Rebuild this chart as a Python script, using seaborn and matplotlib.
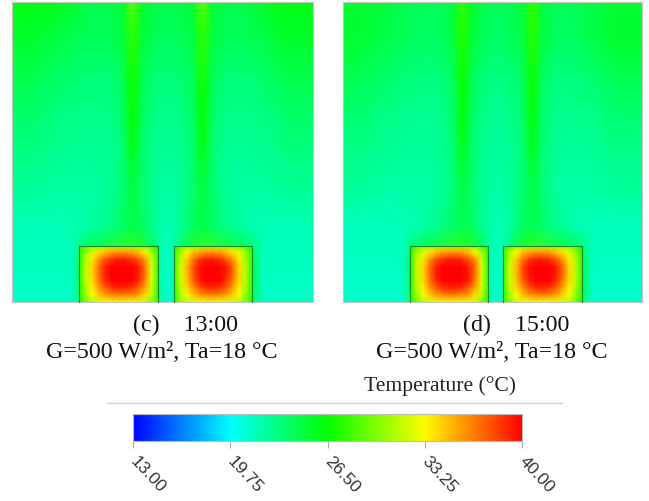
import matplotlib
matplotlib.use('Agg')
import matplotlib.pyplot as plt
import seaborn as sns
from matplotlib.colors import LinearSegmentedColormap
from matplotlib.lines import Line2D

W, H = 649, 502

bar_ticks = [13.0, 19.75, 26.5, 33.25, 40.0]
bar_colors = ['#0000ff', '#00ffff', '#00ff00', '#ffff00', '#ff0000']

captions_time = ['(c)    13:00', '(d)    15:00']
caption_cond = 'G=500 W/m\u00b2, Ta=18 \u00b0C'
bar_title = 'Temperature (\u00b0C)'

# temperature, rows top to bottom, columns every 10 px
field_c = [
    [26.0, 26.0, 26.0, 26.0, 25.9, 25.7, 25.3, 24.9, 24.6, 24.5, 24.6, 25.2, 28.8, 25.4, 24.8, 24.6, 24.6, 24.7, 25.2, 28.8, 25.2, 24.7, 24.5, 24.6, 24.9, 25.4, 25.8, 26.0, 26.0, 26.0, 26.0],
    [25.4, 25.4, 25.3, 25.1, 24.9, 24.6, 24.4, 24.2, 24.1, 24.1, 24.2, 24.8, 27.6, 25.0, 24.3, 24.0, 24.0, 24.2, 24.8, 27.6, 24.8, 24.2, 24.1, 24.1, 24.3, 24.6, 25.0, 25.3, 25.4, 25.4, 25.4],
    [24.5, 24.5, 24.4, 24.2, 24.0, 23.8, 23.6, 23.5, 23.4, 23.4, 23.5, 24.2, 27.0, 24.4, 23.6, 23.4, 23.4, 23.6, 24.2, 27.0, 24.2, 23.6, 23.4, 23.4, 23.5, 23.7, 24.0, 24.3, 24.5, 24.5, 24.5],
    [23.8, 23.8, 23.7, 23.5, 23.3, 23.1, 23.0, 22.9, 22.9, 22.9, 23.1, 23.8, 26.5, 24.0, 23.1, 22.9, 22.9, 23.1, 23.8, 26.5, 23.8, 23.1, 22.9, 22.9, 23.0, 23.1, 23.3, 23.6, 23.8, 23.8, 23.8],
    [23.2, 23.2, 23.1, 23.0, 22.8, 22.7, 22.6, 22.5, 22.5, 22.6, 22.7, 23.5, 25.8, 23.7, 22.8, 22.5, 22.5, 22.8, 23.5, 25.8, 23.6, 22.8, 22.5, 22.5, 22.6, 22.7, 22.9, 23.1, 23.2, 23.2, 23.2],
    [22.5, 22.5, 22.4, 22.3, 22.2, 22.2, 22.2, 22.2, 22.2, 22.3, 22.6, 23.4, 24.8, 23.7, 22.6, 22.2, 22.2, 22.6, 23.6, 24.8, 23.6, 22.6, 22.2, 22.2, 22.2, 22.2, 22.3, 22.4, 22.5, 22.5, 22.5],
    [21.7, 21.7, 21.7, 21.7, 21.7, 21.7, 21.8, 21.9, 22.2, 22.6, 23.2, 23.9, 24.6, 24.0, 22.8, 21.9, 21.9, 22.8, 24.0, 24.6, 23.9, 23.1, 22.5, 22.1, 21.8, 21.7, 21.7, 21.7, 21.7, 21.7, 21.7],
    [21.5, 21.5, 21.5, 21.5, 21.5, 21.5, 21.6, 24.5, 26.0, 27.0, 28.0, 28.8, 28.8, 28.0, 25.0, 21.6, 21.6, 25.0, 28.0, 28.8, 28.8, 28.0, 27.0, 26.0, 24.5, 21.6, 21.5, 21.5, 21.5, 21.5, 21.5],
    [21.2, 21.2, 21.2, 21.2, 21.2, 21.2, 21.3, 24.0, 26.0, 26.0, 26.0, 26.0, 26.0, 26.0, 25.0, 21.3, 21.3, 25.0, 26.0, 26.0, 26.0, 26.0, 26.0, 26.0, 24.0, 21.3, 21.2, 21.2, 21.2, 21.2, 21.2],
]

# panel (d): a bit cooler near the top corners
field_d = [
    [25.3, 25.3, 25.2, 25.1, 25.0, 24.8, 24.5, 24.3, 24.1, 24.1, 24.2, 25.0, 27.8, 25.2, 24.4, 24.2, 24.2, 24.4, 25.0, 27.8, 25.0, 24.3, 24.1, 24.2, 24.4, 24.7, 25.0, 25.2, 25.2, 25.2, 25.2],
    [25.2, 25.2, 25.1, 24.9, 24.7, 24.4, 24.2, 24.0, 23.9, 23.9, 24.0, 24.8, 27.4, 25.0, 24.1, 23.8, 23.8, 24.1, 24.8, 27.4, 24.8, 24.1, 23.9, 24.0, 24.2, 24.5, 24.9, 25.2, 25.3, 25.3, 25.3],
    [24.4, 24.4, 24.2, 24.0, 23.8, 23.6, 23.4, 23.3, 23.2, 23.2, 23.3, 24.1, 26.8, 24.3, 23.4, 23.2, 23.2, 23.4, 24.1, 26.8, 24.1, 23.4, 23.2, 23.3, 23.4, 23.6, 23.9, 24.2, 24.4, 24.4, 24.4],
    [23.6, 23.6, 23.5, 23.3, 23.1, 23.0, 22.8, 22.8, 22.7, 22.7, 22.9, 23.7, 26.3, 23.9, 23.0, 22.7, 22.7, 23.0, 23.7, 26.3, 23.7, 23.0, 22.8, 22.8, 22.9, 23.0, 23.2, 23.5, 23.6, 23.6, 23.6],
    [23.0, 23.0, 22.9, 22.8, 22.6, 22.5, 22.4, 22.4, 22.4, 22.4, 22.6, 23.4, 25.6, 23.6, 22.7, 22.4, 22.4, 22.6, 23.4, 25.6, 23.5, 22.7, 22.4, 22.4, 22.4, 22.5, 22.7, 22.9, 23.0, 23.0, 23.0],
    [22.4, 22.4, 22.3, 22.2, 22.1, 22.1, 22.1, 22.1, 22.1, 22.2, 22.5, 23.3, 24.6, 23.6, 22.5, 22.1, 22.1, 22.5, 23.5, 24.6, 23.5, 22.5, 22.1, 22.1, 22.1, 22.1, 22.2, 22.3, 22.4, 22.4, 22.4],
    [21.6, 21.6, 21.6, 21.6, 21.6, 21.6, 21.7, 21.8, 22.1, 22.5, 23.1, 23.8, 24.4, 23.9, 22.7, 21.8, 21.8, 22.7, 23.9, 24.4, 23.8, 23.0, 22.4, 22.0, 21.7, 21.6, 21.6, 21.6, 21.6, 21.6, 21.6],
    [21.4, 21.4, 21.4, 21.4, 21.4, 21.4, 21.5, 24.5, 26.0, 27.0, 28.0, 28.6, 28.6, 28.0, 25.0, 21.5, 21.5, 25.0, 28.0, 28.6, 28.6, 28.0, 27.0, 26.0, 24.5, 21.5, 21.4, 21.4, 21.4, 21.4, 21.4],
    [21.1, 21.1, 21.1, 21.1, 21.1, 21.1, 21.2, 24.0, 26.0, 26.0, 26.0, 26.0, 26.0, 26.0, 25.0, 21.2, 21.2, 25.0, 26.0, 26.0, 26.0, 26.0, 26.0, 26.0, 24.0, 21.2, 21.1, 21.1, 21.1, 21.1, 21.1],
]

# the two hot blocks, same shape in both panels
block_left = [
    [27.0, 28.5, 29.5, 30.5, 31.0, 31.5, 31.5, 31.5, 31.0, 31.0, 30.0, 28.5, 27.0],
    [27.5, 30.5, 32.5, 34.0, 35.0, 35.8, 36.0, 36.0, 35.8, 35.0, 33.5, 31.0, 27.5],
    [27.5, 31.0, 33.8, 36.0, 37.8, 38.8, 39.3, 39.3, 38.8, 37.8, 36.0, 32.0, 27.5],
    [27.5, 31.5, 34.3, 37.0, 39.0, 40.2, 40.5, 40.5, 40.2, 39.2, 37.0, 32.5, 27.5],
    [27.5, 31.5, 34.3, 37.0, 39.2, 40.3, 40.6, 40.6, 40.3, 39.3, 37.0, 32.5, 27.5],
    [27.5, 31.5, 34.1, 36.8, 38.8, 40.0, 40.4, 40.4, 40.0, 39.0, 36.6, 32.5, 27.5],
    [27.5, 31.0, 33.6, 35.8, 37.5, 38.5, 39.0, 39.0, 38.5, 37.4, 35.6, 32.0, 27.5],
    [27.5, 30.5, 33.0, 34.6, 35.8, 36.5, 36.7, 36.7, 36.5, 35.8, 34.3, 31.5, 27.5],
    [27.0, 29.5, 31.0, 32.0, 32.8, 33.0, 33.0, 33.0, 33.0, 32.8, 32.0, 30.0, 27.5],
]

block_right = [
    [27.0, 28.5, 30.0, 31.0, 31.0, 31.5, 31.5, 31.5, 31.0, 30.5, 29.5, 28.5, 27.0],
    [27.5, 31.0, 33.3, 35.0, 35.6, 36.0, 36.0, 35.8, 35.0, 34.0, 32.5, 30.5, 27.5],
    [27.5, 31.5, 34.6, 37.0, 38.6, 39.3, 39.3, 38.8, 37.8, 36.2, 33.8, 31.0, 27.5],
    [27.5, 32.0, 35.0, 37.8, 39.5, 40.3, 40.5, 40.2, 39.2, 37.3, 34.3, 31.5, 27.5],
    [27.5, 32.0, 35.0, 37.8, 39.6, 40.4, 40.6, 40.3, 39.3, 37.3, 34.3, 31.5, 27.5],
    [27.5, 32.0, 34.8, 37.4, 39.2, 40.0, 40.4, 40.0, 38.8, 36.8, 34.1, 31.5, 27.5],
    [27.5, 31.5, 34.2, 36.2, 37.8, 38.8, 39.0, 38.5, 37.5, 35.8, 33.6, 31.0, 27.5],
    [27.5, 31.0, 33.3, 35.0, 36.0, 36.6, 36.7, 36.5, 35.8, 34.6, 33.0, 30.5, 27.5],
    [27.5, 30.0, 31.5, 32.5, 33.0, 33.0, 33.0, 33.0, 32.8, 32.0, 31.0, 29.5, 27.0],
]

sns.set_theme(style='white')
plt.rcParams['font.family'] = ['Liberation Serif', 'DejaVu Serif']

temp_cmap = LinearSegmentedColormap.from_list('fluent', bar_colors)


def px_axes(fig, x0, y0, x1, y1):
    return fig.add_axes([x0 / W, 1 - y1 / H, (x1 - x0) / W, (y1 - y0) / H])


def draw_field(ax, table):
    # gouraud puts the values on the grid nodes, so limits run to n-1
    sns.heatmap(table, ax=ax, cmap=temp_cmap, vmin=bar_ticks[0], vmax=bar_ticks[-1],
                cbar=False, xticklabels=False, yticklabels=False, shading='gouraud')
    ax.set_xlim(0, len(table[0]) - 1)
    ax.set_ylim(len(table) - 1, 0)


def draw_panel(fig, x0, x1, field, blocks):
    ax = px_axes(fig, x0, 3, x1, 303)
    draw_field(ax, field)
    for sp in ax.spines.values():
        sp.set_visible(True)
        sp.set_color('#c4c4c4')
        sp.set_linewidth(0.8)
    for (bx0, bx1), table in zip(blocks, [block_left, block_right]):
        bax = px_axes(fig, bx0, 246.5, bx1, 303)
        draw_field(bax, table)
        for name in ['top', 'left', 'right']:
            bax.spines[name].set_visible(True)
            bax.spines[name].set_color('#1f8a2a')
            bax.spines[name].set_linewidth(0.8)


fig = plt.figure(figsize=(W / 100, H / 100), dpi=100)

draw_panel(fig, 12, 313, field_c, [(79, 158), (174, 252)])
draw_panel(fig, 343, 642, field_d, [(410, 488), (503, 582)])

fig.text(186 / W, 1 - 325 / H, captions_time[0], ha='center', va='center', fontsize=17.3, color='#111111')
fig.text(161.5 / W, 1 - 353 / H, caption_cond, ha='center', va='center', fontsize=17.3, color='#111111')
fig.text(516 / W, 1 - 325 / H, captions_time[1], ha='center', va='center', fontsize=17.3, color='#111111')
fig.text(491.5 / W, 1 - 353 / H, caption_cond, ha='center', va='center', fontsize=17.3, color='#111111')

fig.text(440 / W, 1 - 386 / H, bar_title, ha='center', va='center', fontsize=15.6, color='#222222')
fig.add_artist(Line2D([107 / W, 562 / W], [1 - 404 / H, 1 - 404 / H], color='#d2d2d2', lw=1))

cax = px_axes(fig, 133, 415, 522, 442)
draw_field(cax, [bar_ticks, bar_ticks])
for sp in cax.spines.values():
    sp.set_visible(True)
    sp.set_color('#bbbbbb')
    sp.set_linewidth(0.8)
cax.set_xticks(range(len(bar_ticks)))
cax.set_xticklabels([f'{t:.2f}' for t in bar_ticks], rotation=-47, ha='left', va='center',
                    rotation_mode='anchor', family='Liberation Sans', fontsize=12.5, color='#333333')
cax.tick_params(axis='x', bottom=True, length=5, width=0.8, color='#aaaaaa', pad=7)

plt.savefig('out.png', dpi=100)
plt.close()
